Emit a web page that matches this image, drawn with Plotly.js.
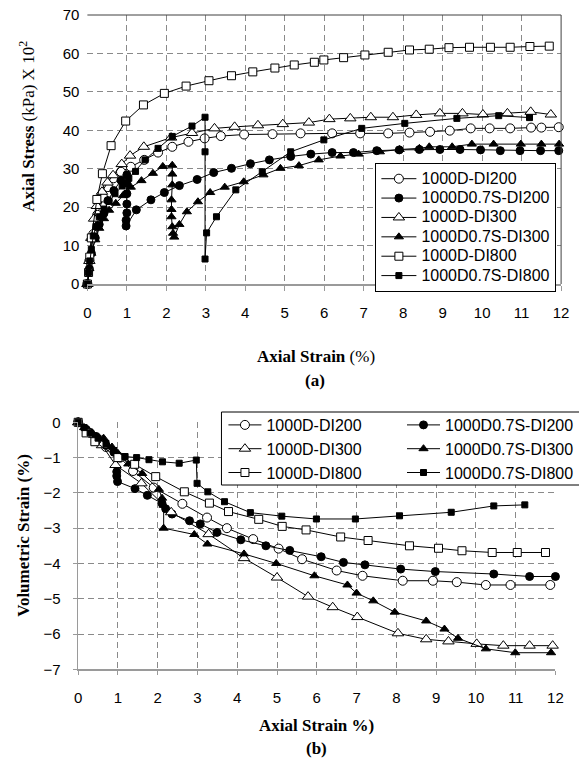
<!DOCTYPE html>
<html>
<head>
<meta charset="utf-8">
<script src="https://cdn.plot.ly/plotly-3.0.1.min.js"></script>
<style>html,body{margin:0;padding:0;background:#fff;}#chart{width:579px;height:761px;}</style>
</head>
<body>
<div id="chart"></div>
<script>
// ---------- series names ----------
var names = ["1000D-DI200", "1000D0.7S-DI200", "1000D-DI300", "1000D0.7S-DI300", "1000D-DI800", "1000D0.7S-DI800"];

// ---------- (a) Axial stress vs axial strain ----------
var a_d200_x = [0, 0.05, 0.15, 0.25, 0.4, 0.52, 0.66, 0.85, 1.1, 1.44, 1.79, 2.15, 2.56, 2.97, 3.38, 3.97, 4.69, 5.4, 6.2, 6.91, 7.62, 8.16, 8.68, 9.18, 9.71, 10.19, 10.71, 11.24, 11.5, 11.94];
var a_d200_y = [0, 6, 13, 18, 22.5, 25.2, 27.5, 29.2, 30.5, 32.3, 34.2, 35.7, 37.0, 37.9, 38.5, 38.9, 39.0, 39.2, 39.2, 39.2, 39.2, 39.4, 39.6, 39.9, 40.5, 40.5, 40.5, 40.7, 40.7, 40.8];

var a_s200_x = [0, 0.05, 0.1, 0.2, 0.3, 0.42, 0.52, 0.67, 0.85, 1.0, 1.0, 1.0, 1.0, 1.0, 0.98, 0.98, 1.24, 1.61, 1.95, 2.33, 2.78, 3.2, 3.65, 4.13, 4.61, 5.15, 5.66, 6.2, 6.74, 7.33, 7.9, 8.41, 8.93, 9.44, 9.96, 10.46, 10.96, 11.48, 11.94];
var a_s200_y = [0, 4, 8, 12, 15.5, 18.4, 21.7, 24.3, 27, 28.4, 26.2, 23.5, 20.8, 18.5, 16.6, 15.1, 19.3, 21.9, 23.8, 25.6, 27.2, 29.0, 30.1, 31.3, 32.3, 33.2, 33.8, 34.2, 34.2, 34.7, 34.9, 35.0, 35.0, 35.0, 34.9, 34.7, 34.7, 34.7, 34.7];

var a_d300_x = [0, 0.05, 0.1, 0.17, 0.24, 0.37, 0.51, 0.65, 0.87, 1.08, 1.43, 2.12, 2.65, 3.22, 3.73, 4.32, 4.95, 5.61, 6.13, 6.66, 7.18, 7.74, 8.33, 8.93, 9.5, 10.02, 10.64, 11.23, 11.74];
var a_d300_y = [0, 6, 12, 17, 20.3, 24, 26.4, 28.3, 31.2, 33.4, 35.7, 38.1, 39.3, 40.5, 40.9, 41.3, 41.6, 42.0, 42.9, 43.1, 43.4, 43.4, 44.0, 44.4, 44.4, 44.1, 44.4, 44.8, 44.1];

var a_s300_x = [0, 0.05, 0.1, 0.2, 0.3, 0.42, 0.55, 0.72, 0.9, 1.1, 1.37, 1.66, 1.91, 2.15, 2.15, 2.15, 2.13, 2.13, 2.13, 2.15, 2.17, 2.2, 2.33, 2.52, 2.8, 3.11, 3.48, 3.96, 4.46, 4.89, 5.36, 5.86, 6.41, 6.87, 7.41, 7.91, 8.41, 8.66, 9.24, 9.74, 10.29, 10.98, 11.5, 11.95];
var a_s300_y = [0, 4, 8, 11.5, 14.5, 17, 19.2, 21, 23, 25.2, 26.9, 28.8, 30.6, 30.9, 28.6, 25.8, 21.9, 19.4, 17.5, 14.9, 13.2, 12.2, 15.5, 18.8, 21.4, 23.8, 25.2, 26.6, 28.4, 30.1, 30.8, 32.3, 33.3, 33.8, 34.4, 35.0, 35.3, 35.7, 35.7, 36.4, 36.4, 36.4, 36.4, 36.4];

var a_d800_x = [0, 0.03, 0.06, 0.1, 0.24, 0.38, 0.6, 0.97, 1.42, 1.95, 2.5, 3.08, 3.65, 4.19, 4.75, 5.24, 5.75, 5.99, 6.49, 7.03, 7.62, 8.16, 8.66, 9.16, 9.68, 10.21, 10.71, 11.21, 11.7];
var a_d800_y = [0, 3, 7, 12, 22, 28.7, 36, 42.4, 46.6, 49.6, 51.5, 52.9, 54.2, 55.2, 56.2, 57.0, 57.7, 58.3, 58.9, 59.6, 60.3, 60.9, 61.1, 61.5, 61.6, 61.6, 61.6, 61.8, 61.9];

var a_s800_x = [0, 0.03, 0.06, 0.1, 0.15, 0.22, 0.3, 0.42, 0.55, 0.7, 0.88, 1.05, 1.22, 1.46, 1.79, 2.15, 2.65, 2.98, 2.98, 2.98, 3.02, 3.27, 3.76, 4.43, 5.15, 5.99, 6.95, 8.04, 9.36, 10.42, 11.2];
var a_s800_y = [0, 3, 6, 9, 12.5, 15, 17.5, 19.5, 21.5, 23.5, 25.5, 27.5, 29.3, 32.3, 35.3, 38.4, 41.1, 43.4, 34.4, 6.5, 13.3, 17.5, 24.5, 29.2, 34.4, 37.5, 40.5, 41.8, 43.1, 43.8, 43.3];

// ---------- (b) Volumetric strain vs axial strain ----------
var b_d200_x = [0, 0.3, 0.7, 1.05, 1.38, 1.9, 2.62, 3.24, 3.74, 4.4, 5.04, 5.63, 6.5, 7.15, 8.16, 8.92, 9.52, 10.25, 10.87, 11.87];
var b_d200_y = [0, -0.3, -0.7, -1.0, -1.38, -1.85, -2.31, -2.7, -3.0, -3.31, -3.58, -3.88, -4.2, -4.35, -4.49, -4.49, -4.53, -4.61, -4.61, -4.61];

var b_s200_x = [0, 0.2, 0.45, 0.7, 0.9, 0.97, 0.97, 0.99, 1.43, 1.74, 2.11, 2.2, 2.36, 2.8, 3.07, 3.49, 4.09, 4.72, 5.32, 6.11, 6.67, 7.21, 8.11, 8.98, 10.45, 11.35, 12.0];
var b_s200_y = [0, -0.2, -0.4, -0.65, -0.85, -1.4, -1.52, -1.68, -1.88, -2.07, -2.3, -2.45, -2.6, -2.79, -2.88, -3.12, -3.33, -3.5, -3.63, -3.81, -3.97, -4.04, -4.16, -4.23, -4.3, -4.37, -4.37];

var b_d300_x = [0, 0.3, 0.6, 0.94, 1.59, 2.34, 3.28, 4.17, 5.0, 5.78, 6.4, 7.02, 8.04, 8.75, 9.31, 10.02, 10.69, 11.35, 11.93];
var b_d300_y = [0, -0.3, -0.65, -1.21, -1.73, -2.55, -3.17, -3.85, -4.4, -4.94, -5.24, -5.52, -5.98, -6.15, -6.21, -6.28, -6.33, -6.33, -6.33];

var b_s300_x = [0, 0.15, 0.35, 0.64, 0.85, 1.0, 1.26, 1.61, 2.03, 2.11, 2.15, 2.15, 2.92, 3.25, 4.17, 4.98, 5.94, 6.77, 7.0, 7.42, 7.96, 8.75, 9.21, 9.55, 10.25, 10.99, 11.89];
var b_s300_y = [0, -0.15, -0.3, -0.45, -0.7, -0.88, -1.18, -1.45, -1.9, -2.15, -2.35, -3.0, -3.18, -3.45, -3.73, -4.0, -4.35, -4.61, -4.84, -5.06, -5.38, -5.63, -5.86, -6.12, -6.42, -6.53, -6.53];

var b_d800_x = [0, 0.2, 0.42, 1.0, 1.42, 1.95, 2.67, 3.3, 3.78, 4.54, 5.13, 5.73, 6.6, 7.29, 8.33, 9.06, 9.65, 10.41, 11.04, 11.75];
var b_d800_y = [0, -0.3, -0.55, -1.0, -1.19, -1.54, -1.97, -2.29, -2.53, -2.75, -2.95, -3.05, -3.25, -3.35, -3.5, -3.57, -3.64, -3.69, -3.69, -3.69];

var b_s800_x = [0, 0.15, 0.3, 0.5, 0.7, 0.9, 1.18, 1.47, 1.78, 2.12, 2.54, 2.97, 2.99, 3.26, 3.68, 4.33, 5.12, 5.99, 6.97, 8.08, 9.38, 10.45, 11.23];
var b_s800_y = [0, -0.15, -0.3, -0.45, -0.6, -0.8, -0.97, -1.0, -1.06, -1.12, -1.16, -1.07, -1.73, -1.97, -2.25, -2.56, -2.66, -2.74, -2.74, -2.65, -2.55, -2.37, -2.34];

// ---------- styles ----------
var styles = [
  {symbol: 'circle', color: 'white', size: 9},
  {symbol: 'circle', color: 'black', size: 8},
  {symbol: 'triangle-up', color: 'white', size: 10},
  {symbol: 'triangle-up', color: 'black', size: 8},
  {symbol: 'square', color: 'white', size: 8},
  {symbol: 'square', color: 'black', size: 6}
];

function mk(x, y, i, xa, ya, leg, label) {
  var s = styles[i];
  return {
    type: 'scatter', mode: 'lines+markers', x: x, y: y, xaxis: xa, yaxis: ya,
    name: label, legend: leg, cliponaxis: false,
    line: {color: 'black', width: 1},
    marker: {symbol: s.symbol, size: s.size, color: s.color, line: {color: 'black', width: 1}}
  };
}
function bigName(n) { return '<span style="font-size:16px">' + n + '</span>'; }

var aX = [a_d200_x, a_s200_x, a_d300_x, a_s300_x, a_d800_x, a_s800_x];
var aY = [a_d200_y, a_s200_y, a_d300_y, a_s300_y, a_d800_y, a_s800_y];
var bX = [b_d200_x, b_s200_x, b_d300_x, b_s300_x, b_d800_x, b_s800_x];
var bY = [b_d200_y, b_s200_y, b_d300_y, b_s300_y, b_d800_y, b_s800_y];

var data = [];
for (var i = 0; i < 6; i++) data.push(mk(aX[i], aY[i], i, 'x', 'y', 'legend', bigName(names[i])));
for (var j = 0; j < 6; j++) data.push(mk(bX[j], bY[j], j, 'x2', 'y2', (j % 2 === 0) ? 'legend2' : 'legend3', names[j]));

var W = 579, H = 761;
function px(v) { return v / W; }
function py(v) { return 1 - v / H; }

var tickFont = {family: 'Liberation Sans, Arial, sans-serif', size: 15, color: '#000'};
var gridStyle = {showgrid: true, gridcolor: '#8a8a8a', gridwidth: 1, griddash: '6px,4px', zeroline: false};

var layout = {
  width: W, height: H,
  margin: {l: 0, r: 0, t: 0, b: 0},
  paper_bgcolor: 'white', plot_bgcolor: 'white',
  showlegend: true,
  xaxis: Object.assign({
    domain: [px(88), px(565)], range: [0, 12], tick0: 0, dtick: 1, anchor: 'y',
    showline: true, linecolor: '#9a9a9a', linewidth: 1.5,
    ticks: 'outside', ticklen: 5, tickcolor: '#9a9a9a', tickfont: tickFont, ticklabelstandoff: 9,
    fixedrange: true
  }, gridStyle),
  yaxis: Object.assign({
    domain: [py(284), py(15)], range: [0, 70], tick0: 0, dtick: 10, anchor: 'x',
    showline: false, ticks: '', tickfont: tickFont, ticklabelstandoff: 7, fixedrange: true
  }, gridStyle),
  xaxis2: Object.assign({
    domain: [px(78.7), px(559.3)], range: [0, 12], tick0: 0, dtick: 1, anchor: 'y2',
    showline: true, linecolor: '#9a9a9a', linewidth: 1.5,
    ticks: 'outside', ticklen: 4, tickcolor: '#9a9a9a', tickfont: tickFont, ticklabelstandoff: 10,
    fixedrange: true
  }, gridStyle),
  yaxis2: Object.assign({
    domain: [py(669.3), py(422.3)], range: [-7, 0], tick0: 0, dtick: 1, anchor: 'x2',
    showline: true, linecolor: '#9a9a9a', linewidth: 1.5,
    ticks: 'outside', ticklen: 4, tickcolor: '#9a9a9a', tickfont: tickFont, ticklabelstandoff: 9,
    fixedrange: true
  }, gridStyle),
  legend: {
    x: px(378), y: py(163), xanchor: 'left', yanchor: 'top',
    bgcolor: 'white', bordercolor: '#000', borderwidth: 1, itemwidth: 35,
    font: {family: 'Liberation Sans, Arial, sans-serif', size: 12.6, color: '#000'},
    tracegroupgap: 0
  },
  legend2: {
    x: px(225), y: py(408), xanchor: 'left', yanchor: 'top',
    bgcolor: 'rgba(0,0,0,0)', borderwidth: 0, itemwidth: 33,
    font: {family: 'Liberation Sans, Arial, sans-serif', size: 16, color: '#000'},
    tracegroupgap: 0
  },
  legend3: {
    x: px(405), y: py(408), xanchor: 'left', yanchor: 'top',
    bgcolor: 'rgba(0,0,0,0)', borderwidth: 0, itemwidth: 33,
    font: {family: 'Liberation Sans, Arial, sans-serif', size: 16, color: '#000'},
    tracegroupgap: 0
  },
  shapes: [
    {type: 'line', xref: 'x domain', yref: 'y domain', x0: 0, x1: 1, y0: 1, y1: 1, line: {color: '#404040', width: 1}},
    {type: 'line', xref: 'x domain', yref: 'y domain', x0: 1, x1: 1, y0: 0, y1: 1, line: {color: '#404040', width: 1}},
    {type: 'rect', xref: 'paper', yref: 'paper', x0: px(223), x1: px(590), y0: py(485), y1: py(412),
     line: {color: '#000', width: 1}, fillcolor: 'white', layer: 'above'}
  ],
  annotations: [
    {xref: 'paper', yref: 'paper', x: px(27), y: py(126), textangle: -90, showarrow: false,
     xanchor: 'center', yanchor: 'middle',
     text: '<b>Axial Stress</b> (kPa) X 10<sup>2</sup>',
     font: {family: 'Liberation Serif, Times New Roman, serif', size: 17, color: '#000'}},
    {xref: 'paper', yref: 'paper', x: px(318), y: py(356), showarrow: false,
     xanchor: 'center', yanchor: 'middle', text: '<b>Axial Strain</b> (%)',
     font: {family: 'Liberation Serif, Times New Roman, serif', size: 17, color: '#000'}},
    {xref: 'paper', yref: 'paper', x: px(317), y: py(380), showarrow: false,
     xanchor: 'center', yanchor: 'middle', text: '<b>(a)</b>',
     font: {family: 'Liberation Serif, Times New Roman, serif', size: 17, color: '#000'}},
    {xref: 'paper', yref: 'paper', x: px(23), y: py(535), textangle: -90, showarrow: false,
     xanchor: 'center', yanchor: 'middle', text: '<b>Volumetric Strain (%)</b>',
     font: {family: 'Liberation Serif, Times New Roman, serif', size: 17, color: '#000'}},
    {xref: 'paper', yref: 'paper', x: px(319), y: py(725), showarrow: false,
     xanchor: 'center', yanchor: 'middle', text: '<b>Axial Strain %)</b>',
     font: {family: 'Liberation Serif, Times New Roman, serif', size: 17, color: '#000'}},
    {xref: 'paper', yref: 'paper', x: px(319), y: py(748), showarrow: false,
     xanchor: 'center', yanchor: 'middle', text: '<b>(b)</b>',
     font: {family: 'Liberation Serif, Times New Roman, serif', size: 17, color: '#000'}}
  ]
};

Plotly.newPlot('chart', data, layout, {staticPlot: true, displayModeBar: false});
</script>
</body>
</html>
